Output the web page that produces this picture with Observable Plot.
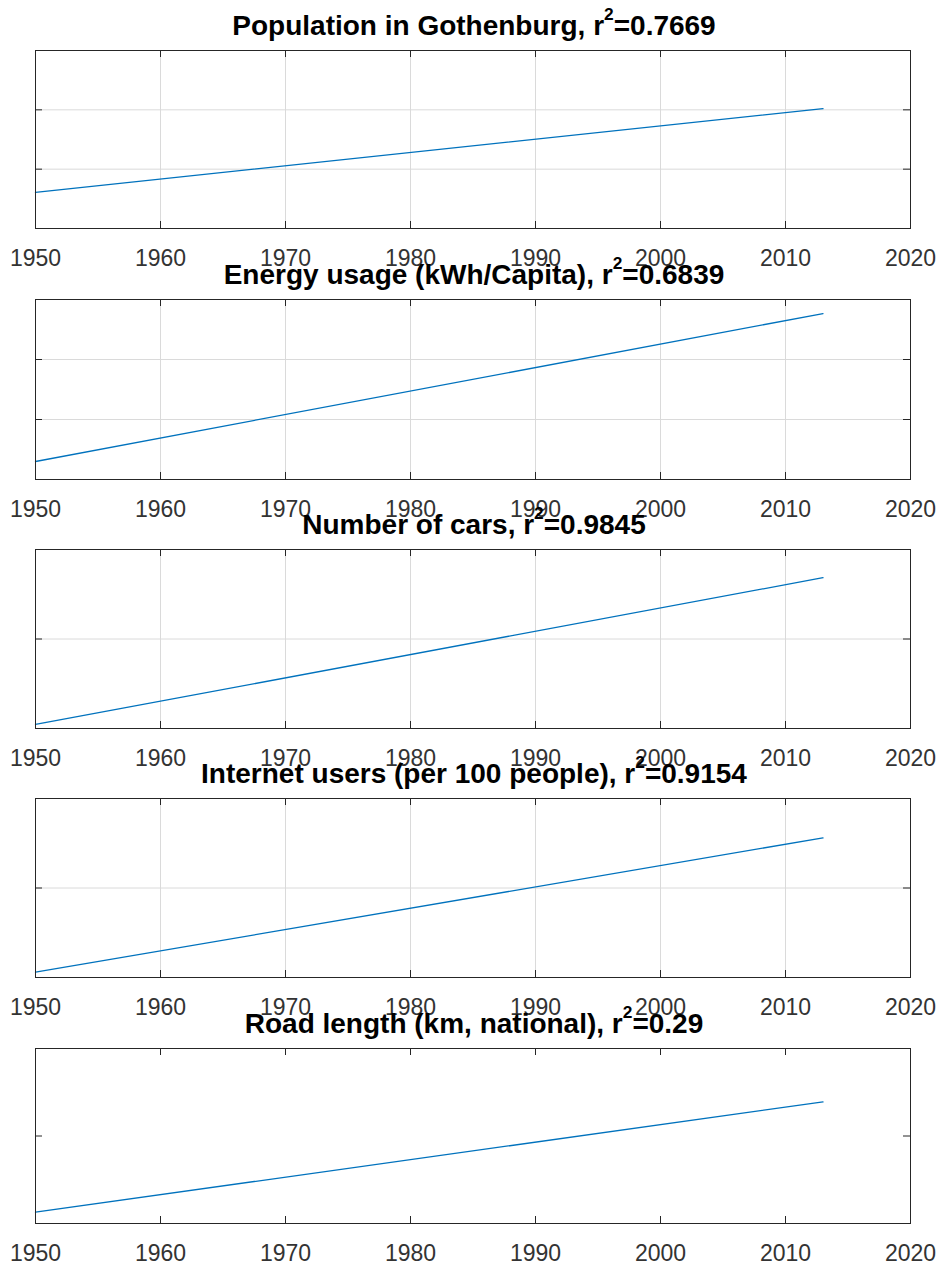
<!DOCTYPE html>
<html>
<head>
<meta charset="utf-8">
<script src="https://cdn.jsdelivr.net/npm/d3@7"></script>
<script src="https://cdn.jsdelivr.net/npm/@observablehq/plot@0.6"></script>
<style>
  body { margin: 0; background: #fff; }
  #chart { position: relative; width: 942px; height: 1265px; font-family: "Liberation Sans", Arial, sans-serif; }
  .title { position: absolute; left: 0; width: 948px; text-align: center; font-weight: bold; font-size: 28px; line-height: 28px; color: #000; white-space: nowrap; }
  .title sup { font-size: 0.62em; line-height: 0; vertical-align: 0; position: relative; top: -0.85em; }
  .panel { position: absolute; left: 0; }
</style>
</head>
<body>
<div id="chart"></div>
<script>
// ---- data (y axes carry no labels) ----
const years = [1950, 2013];
const titleNames = [
  "Population in Gothenburg",
  "Energy usage (kWh/Capita)",
  "Number of cars",
  "Internet users (per 100 people)",
  "Road length (km, national)"
];
const rSquared = ["0.7669", "0.6839", "0.9845", "0.9154", "0.29"];

const populationFit = [361000, 502000];
const energyFit = [1500, 13830];
const carsFit = [9000, 337000];
const internetFit = [-94, 56];
const roadFit = [91300, 103900];

const xTicks = [1950, 1960, 1970, 1980, 1990, 2000, 2010, 2020];

const yDomains = [[300000, 600000], [0, 15000], [0, 400000], [-100, 100], [90000, 110000]];
const yTicks = [[400000, 500000], [5000, 10000], [200000], [0], [100000]];
const showGrid = [true, true, true, true, false];
const series = [populationFit, energyFit, carsFit, internetFit, roadFit];

// ---- layout ----
const frameTops = [50, 299, 549, 798, 1048];
const frameHeights = [178, 180, 179, 179, 175];
const W = 942, mL = 35, mR = 32, mT = 10, mB = 45;
const innerW = W - mL - mR;
const tickLen = 7;
const ink = "#262626";
const gridColor = "#dadada";

const chart = document.getElementById("chart");

series.forEach((vals, i) => {
  const rows = years.map((year, j) => ({year, value: vals[j]}));
  const h = frameHeights[i];
  const marks = [];
  if (showGrid[i]) {
    marks.push(Plot.ruleX(xTicks, {x: d => d, stroke: gridColor, strokeWidth: 1}));
    marks.push(Plot.ruleY(yTicks[i], {y: d => d, stroke: gridColor, strokeWidth: 1}));
  }
  marks.push(Plot.line(rows, {x: "year", y: "value", stroke: "#0072bd", strokeWidth: 1.3}));
  // inward ticks (MATLAB style) on all four sides
  marks.push(Plot.ruleX(xTicks, {x: d => d, insetTop: h - tickLen, stroke: ink}));
  marks.push(Plot.ruleX(xTicks, {x: d => d, insetBottom: h - tickLen, stroke: ink}));
  marks.push(Plot.ruleY(yTicks[i], {y: d => d, insetRight: innerW - tickLen, stroke: ink}));
  marks.push(Plot.ruleY(yTicks[i], {y: d => d, insetLeft: innerW - tickLen, stroke: ink}));
  marks.push(Plot.frame({stroke: ink, strokeWidth: 1}));
  marks.push(Plot.axisX(xTicks, {tickSize: 0, tickPadding: 21, fontSize: 23, fill: "#333", label: null, tickFormat: d => String(d)}));

  const svg = Plot.plot({
    width: W,
    height: mT + h + mB,
    marginLeft: mL,
    marginRight: mR,
    marginTop: mT,
    marginBottom: mB,
    style: {background: "transparent", fontFamily: "'Liberation Sans', Arial, sans-serif", overflow: "visible"},
    x: {domain: [1950, 2020], label: null},
    y: {domain: yDomains[i], axis: null},
    marks
  });
  svg.classList.add("panel");
  svg.style.position = "absolute";
  svg.style.top = (frameTops[i] - mT) + "px";
  svg.style.left = "0px";
  chart.appendChild(svg);

  const t = document.createElement("div");
  t.className = "title";
  t.style.top = (frameTops[i] - 38) + "px";
  t.innerHTML = `${titleNames[i]}, r<sup>2</sup>=${rSquared[i]}`;
  chart.appendChild(t);
});
</script>
</body>
</html>
